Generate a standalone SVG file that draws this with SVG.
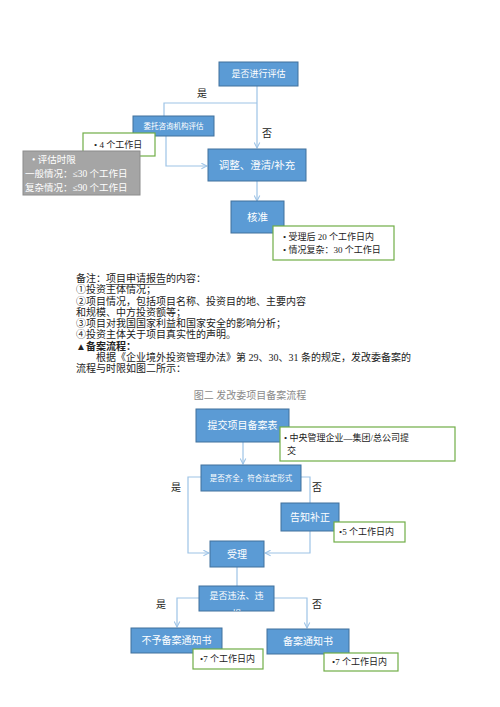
<svg xmlns="http://www.w3.org/2000/svg" width="500" height="707" viewBox="0 0 500 707">
<style>
.box{fill:#5b9bd5;stroke:#41719c;stroke-width:1}
.bt{fill:#fff;font-family:"Liberation Sans","Noto Sans CJK SC",sans-serif;text-anchor:middle;dominant-baseline:central}
.note{fill:#fff;stroke:#70ad47;stroke-width:1.2}
.nt{fill:#222;font-family:"Liberation Serif","Noto Sans CJK SC",serif;font-size:9px}
.lbl{fill:#222;font-family:"Liberation Serif","Noto Sans CJK SC",serif;font-size:10px;text-anchor:middle;dominant-baseline:central}
.body{fill:#222;font-family:"Liberation Serif","Noto Sans CJK SC",serif;font-size:10px}
.cap{fill:#8a8a8a;font-family:"Liberation Serif","Noto Sans CJK SC",serif;font-size:10px;text-anchor:middle}
.con{fill:none;stroke:#9dc3e6;stroke-width:1.2}
</style>
<defs>
<marker id="arr" viewBox="0 0 10 10" refX="9" refY="5" markerWidth="7" markerHeight="7" orient="auto" markerUnits="userSpaceOnUse">
<polyline points="1,1 9,5 1,9" fill="none" stroke="#9dc3e6" stroke-width="1.5"/>
</marker>
<clipPath id="clipv"><rect x="199" y="586" width="75" height="25"/></clipPath>
</defs>
<rect width="500" height="707" fill="#fff"/>

<g id="connectors">
<path class="con" d="M257,86 V148" marker-end="url(#arr)"/>
<path class="con" d="M257,103 H164 V116"/>
<path class="con" d="M166,136 V166 H207" marker-end="url(#arr)"/>
<path class="con" d="M257,181 V201" marker-end="url(#arr)"/>
<path class="con" d="M243,442 V464" marker-end="url(#arr)"/>
<path class="con" d="M201,477 H188 V553 H209" marker-end="url(#arr)"/>
<path class="con" d="M301,477 H310 V503"/>
<path class="con" d="M310,531 V553 H265" marker-end="url(#arr)"/>
<path class="con" d="M237,567 V586"/>
<path class="con" d="M199,598 H177 V627" marker-end="url(#arr)"/>
<path class="con" d="M274,598 H307 V628" marker-end="url(#arr)"/>
</g>

<g id="labels">
<text class="lbl" x="202" y="93">是</text>
<text class="lbl" x="267" y="133">否</text>
<text class="lbl" x="176" y="487">是</text>
<text class="lbl" x="317" y="487">否</text>
<text class="lbl" x="161" y="604">是</text>
<text class="lbl" x="317" y="604">否</text>
</g>

<g id="n-assess">
<rect class="box" x="219" y="62" width="79" height="24"/>
<text class="bt" x="258.5" y="74" font-size="9">是否进行评估</text>
</g>
<g id="n-entrust">
<rect class="box" x="133" y="116" width="81" height="20"/>
<text class="bt" x="173.5" y="126" font-size="7.5">委托咨询机构评估</text>
</g>
<g id="n-4days">
<rect class="note" x="83" y="133" width="72" height="23"/>
<text class="nt" x="94" y="147.5" font-size="9.5">• 4 个工作日</text>
</g>
<g id="n-limit">
<rect x="23" y="151" width="117" height="44" fill="#a5a5a5" stroke="#8c8c8c"/>
<text fill="#fff" font-family="Liberation Serif,'Noto Sans CJK SC',serif" font-size="9.5">
<tspan x="32" y="163">• 评估时限</tspan>
<tspan x="25" y="177">一般情况：≤30 个工作日</tspan>
<tspan x="25" y="191">复杂情况：≤90 个工作日</tspan>
</text>
</g>
<g id="n-adjust">
<rect class="box" x="208" y="149" width="98" height="32"/>
<text class="bt" x="257" y="165" font-size="10.5">调整、澄清/补充</text>
</g>
<g id="n-approve">
<rect class="box" x="231" y="201" width="53" height="32"/>
<text class="bt" x="257.5" y="217" font-size="10.5">核准</text>
</g>
<g id="n-approve-note">
<rect class="note" x="273" y="226" width="121" height="34"/>
<text class="nt" font-size="9.3"><tspan x="283" y="240">• 受理后 20 个工作日内</tspan><tspan x="283" y="253">• 情况复杂：30 个工作日</tspan></text>
</g>

<g id="body-text">
<text class="body" x="76" y="281.5">备注：项目申请报告的内容：</text>
<line x1="106" y1="284.5" x2="166" y2="284.5" stroke="#222" stroke-width="0.7"/>
<text class="body" x="76" y="292.5">①投资主体情况；</text>
<text class="body" x="76" y="304.5">②项目情况，包括项目名称、投资目的地、主要内容</text>
<text class="body" x="76" y="315.5">和规模、中方投资额等；</text>
<text class="body" x="76" y="326.5">③项目对我国国家利益和国家安全的影响分析；</text>
<text class="body" x="76" y="337.5">④投资主体关于项目真实性的声明。</text>
<text class="body" x="76" y="349.5" font-weight="bold">▲备案流程：</text>
<text class="body" x="96" y="360.5">根据《企业境外投资管理办法》第 29、30、31 条的规定，发改委备案的</text>
<text class="body" x="76" y="371.5">流程与时限如图二所示：</text>
<text class="cap" x="250" y="398.5">图二  发改委项目备案流程</text>
</g>

<g id="n-submit">
<rect class="box" x="196" y="409" width="93" height="33"/>
<text class="bt" x="242.5" y="425.5" font-size="10">提交项目备案表</text>
</g>
<g id="n-submit-note">
<rect class="note" x="280" y="427" width="175" height="34"/>
<text class="nt" font-size="10"><tspan x="284" y="441">• 中央管理企业—集团/总公司提</tspan><tspan x="287" y="454">交</tspan></text>
</g>
<g id="n-complete">
<rect class="box" x="201" y="465" width="100" height="26"/>
<text class="bt" x="251" y="478" font-size="7.5">是否齐全，符合法定形式</text>
</g>
<g id="n-notify">
<rect class="box" x="281" y="503" width="58" height="28"/>
<text class="bt" x="310" y="517" font-size="10">告知补正</text>
</g>
<g id="n-notify-note">
<rect class="note" x="334" y="522" width="71" height="20"/>
<text class="nt" x="339" y="535">•5 个工作日内</text>
</g>
<g id="n-accept">
<rect class="box" x="210" y="541" width="54" height="26"/>
<text class="bt" x="237" y="554" font-size="10">受理</text>
</g>
<g id="n-illegal">
<rect class="box" x="199" y="586" width="75" height="25"/>
<text class="bt" x="236.5" y="596" font-size="9">是否违法、违</text>
<text class="bt" x="236.5" y="613.5" font-size="9" clip-path="url(#clipv)">规</text>
</g>
<g id="n-reject">
<rect class="box" x="131" y="628" width="91" height="25"/>
<text class="bt" x="176.5" y="640.5" font-size="10">不予备案通知书</text>
</g>
<g id="n-reject-note">
<rect class="note" x="193" y="649" width="70" height="20"/>
<text class="nt" x="200" y="662">•7 个工作日内</text>
</g>
<g id="n-record">
<rect class="box" x="267" y="629" width="82" height="25"/>
<text class="bt" x="308" y="641.5" font-size="10">备案通知书</text>
</g>
<g id="n-record-note">
<rect class="note" x="324" y="653" width="74" height="18"/>
<text class="nt" x="332" y="665">•7 个工作日内</text>
</g>
</svg>
